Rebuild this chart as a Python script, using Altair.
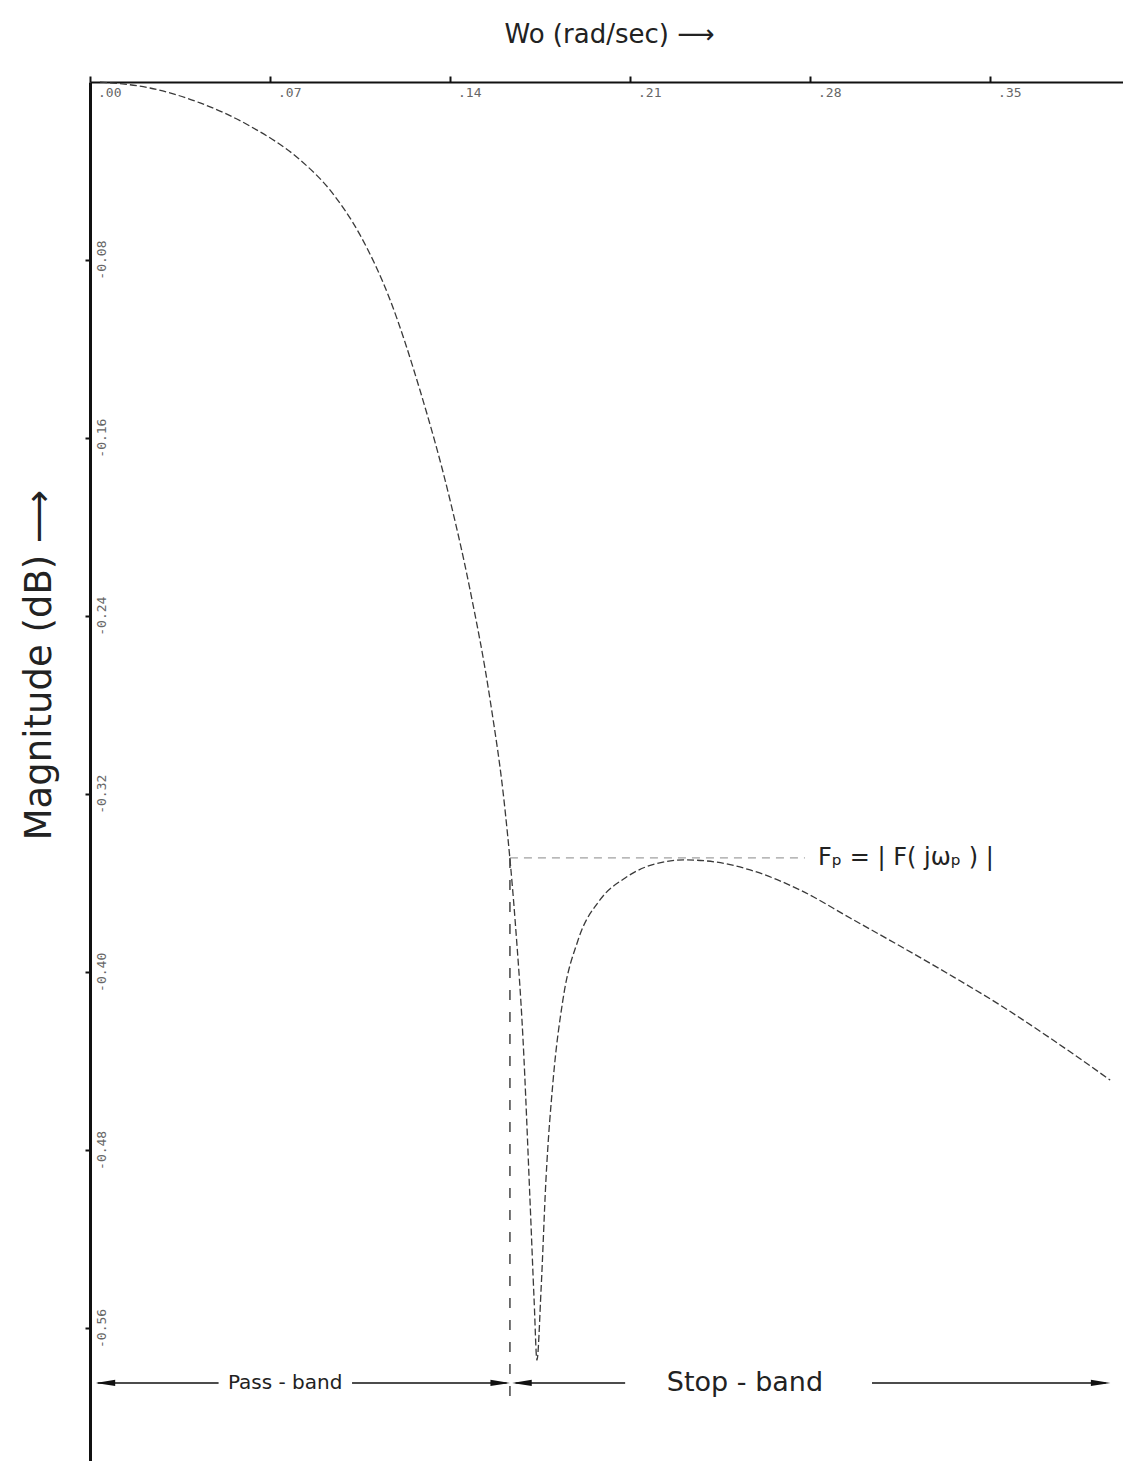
import altair as alt
import pandas as pd

# ---- data ----
curve_x = [0.0039, 0.0233, 0.0428, 0.0622, 0.0817, 0.0933, 0.1050, 0.1167, 0.1283, 0.1400,
           0.1478, 0.1556, 0.1614, 0.1653, 0.1684, 0.1711, 0.1727, 0.1738, 0.1754, 0.1773,
           0.1801, 0.1839, 0.1898, 0.1983, 0.2081, 0.2197, 0.2314, 0.2431, 0.2567, 0.2761,
           0.2956, 0.3150, 0.3345, 0.3539, 0.3733, 0.3967]
curve_y = [0.0, -0.0027, -0.0094, -0.0198, -0.0350, -0.0485, -0.0687, -0.0979, -0.1384, -0.1878,
           -0.2282, -0.2777, -0.3271, -0.3765, -0.4304, -0.5023, -0.5472, -0.5742, -0.5427, -0.4933,
           -0.4484, -0.4124, -0.3855, -0.3675, -0.3576, -0.3513, -0.3495, -0.3504, -0.3540, -0.3630,
           -0.3756, -0.3882, -0.4012, -0.4147, -0.4295, -0.4484]

x_ticks = [0.0, 0.07, 0.14, 0.21, 0.28, 0.35]
x_tick_labels = [".00", ".07", ".14", ".21", ".28", ".35"]
y_ticks = [-0.08, -0.16, -0.24, -0.32, -0.40, -0.48, -0.56]
y_tick_labels = ["-0.08", "-0.16", "-0.24", "-0.32", "-0.40", "-0.48", "-0.56"]

fp_level = -0.3486
edge_x = 0.1633
band_y = -0.5845

X_DOMAIN = [0, 0.4017]
Y_DOMAIN = [-0.62, 0]

xs = alt.Scale(domain=X_DOMAIN, nice=False, zero=False)
ys = alt.Scale(domain=Y_DOMAIN, nice=False, zero=False)

FONT = "DejaVu Sans"

curve_df = pd.DataFrame({"w": curve_x, "mag": curve_y, "order": range(len(curve_x))})

curve = alt.Chart(curve_df).mark_line(
    color="#3a3a3a", strokeWidth=1.3, strokeDash=[7, 3], interpolate="monotone"
).encode(
    x=alt.X("w:Q", scale=xs, axis=alt.Axis(
        orient="top", values=x_ticks, labels=False, title=None, grid=False,
        domainColor="#111", domainWidth=2, tickColor="#111", tickSize=6, tickWidth=2)),
    y=alt.Y("mag:Q", scale=ys, axis=alt.Axis(
        orient="left", values=y_ticks, labels=False, title=None, grid=False,
        domainColor="#111", domainWidth=3, tickColor="#111", tickSize=5, tickWidth=2)),
    order="order:Q",
)

# tick labels (inside the frame)
xl_df = pd.DataFrame({"v": x_ticks, "t": x_tick_labels})
x_labels = alt.Chart(xl_df).mark_text(
    font="DejaVu Sans Mono", fontSize=13, color="#666", align="left", baseline="top", dx=8, dy=5
).encode(x=alt.X("v:Q", scale=xs), y=alt.datum(0), text="t:N")

yl_df = pd.DataFrame({"v": y_ticks, "t": y_tick_labels})
y_labels = alt.Chart(yl_df).mark_text(
    font="DejaVu Sans Mono", fontSize=13, color="#666", align="center", baseline="middle", angle=270
).encode(x=alt.datum(0.0045), y=alt.Y("v:Q", scale=ys), text="t:N")

# Fp horizontal dashed line
fp_df = pd.DataFrame({"x1": [edge_x], "x2": [0.2780], "y": [fp_level]})
fp_line = alt.Chart(fp_df).mark_rule(color="#888", strokeWidth=1, strokeDash=[8, 6]).encode(
    x=alt.X("x1:Q", scale=xs), x2="x2:Q", y=alt.Y("y:Q", scale=ys))

# pass-band edge vertical dashed line
edge_df = pd.DataFrame({"x": [edge_x], "y1": [fp_level], "y2": [-0.5922]})
edge_line = alt.Chart(edge_df).mark_rule(color="#444", strokeWidth=1.5, strokeDash=[10, 12]).encode(
    x=alt.X("x:Q", scale=xs), y=alt.Y("y1:Q", scale=ys), y2="y2:Q")

# band arrows
seg_df = pd.DataFrame({
    "x1": [0.0030, 0.1019, 0.1655, 0.3041],
    "x2": [0.0500, 0.1620, 0.2081, 0.3950],
    "y": [band_y] * 4,
})
segs = alt.Chart(seg_df).mark_rule(color="#111", strokeWidth=1.6).encode(
    x=alt.X("x1:Q", scale=xs), x2="x2:Q", y=alt.Y("y:Q", scale=ys))

left_head = "M-1,0 L1,-0.32 L1,0.32 Z"
right_head = "M1,0 L-1,-0.32 L-1,0.32 Z"
heads_df = pd.DataFrame({
    "x": [0.0060, 0.1595, 0.1680, 0.3930],
    "y": [band_y] * 4,
    "s": ["L", "R", "L", "R"],
})
heads = alt.Chart(heads_df).mark_point(filled=True, color="#111", opacity=1, size=380).encode(
    x=alt.X("x:Q", scale=xs), y=alt.Y("y:Q", scale=ys),
    shape=alt.Shape("s:N", scale=alt.Scale(domain=["L", "R"], range=[left_head, right_head]), legend=None))

band_txt_df = pd.DataFrame({"x": [0.0759, 0.2547], "y": [band_y] * 2,
                            "t": ["Pass - band", "Stop - band"], "fs": [20, 27]})
band_txt = alt.Chart(band_txt_df).mark_text(font=FONT, color="#222", baseline="middle").encode(
    x=alt.X("x:Q", scale=xs), y=alt.Y("y:Q", scale=ys), text="t:N",
    size=alt.Size("fs:Q", scale=None, legend=None))

fp_txt = alt.Chart(pd.DataFrame({"x": [0.2800], "y": [fp_level], "t": ["Fₚ = | F( jωₚ ) |"]})).mark_text(
    font=FONT, fontSize=24, color="#222", align="left", baseline="middle", dx=8).encode(
    x=alt.X("x:Q", scale=xs), y=alt.Y("y:Q", scale=ys), text="t:N")

top_title = alt.Chart(pd.DataFrame({"x": [0.2020], "y": [0.021], "t": ["Wo   (rad/sec)   ⟶"]})).mark_text(
    font=FONT, fontSize=26, color="#222", baseline="middle").encode(
    x=alt.X("x:Q", scale=xs), y=alt.Y("y:Q", scale=ys), text="t:N")

left_title = alt.Chart(pd.DataFrame({"x": [-0.0194], "y": [-0.2620], "t": ["Magnitude  (dB)  ⟶"]})).mark_text(
    font=FONT, fontSize=37, color="#222", baseline="middle", angle=270).encode(
    x=alt.X("x:Q", scale=xs), y=alt.Y("y:Q", scale=ys), text="t:N")

chart = alt.layer(
    curve, fp_line, edge_line, segs, heads, band_txt, fp_txt, x_labels, y_labels, top_title, left_title
).properties(
    width=1033, height=1380,
    padding={"left": 90, "top": 82, "right": 0, "bottom": 0},
    autosize=alt.AutoSizeParams(type="none"),
    background="white",
).configure_view(stroke=None)

chart.save("out.html", embed_options={"renderer": "svg", "actions": False})
